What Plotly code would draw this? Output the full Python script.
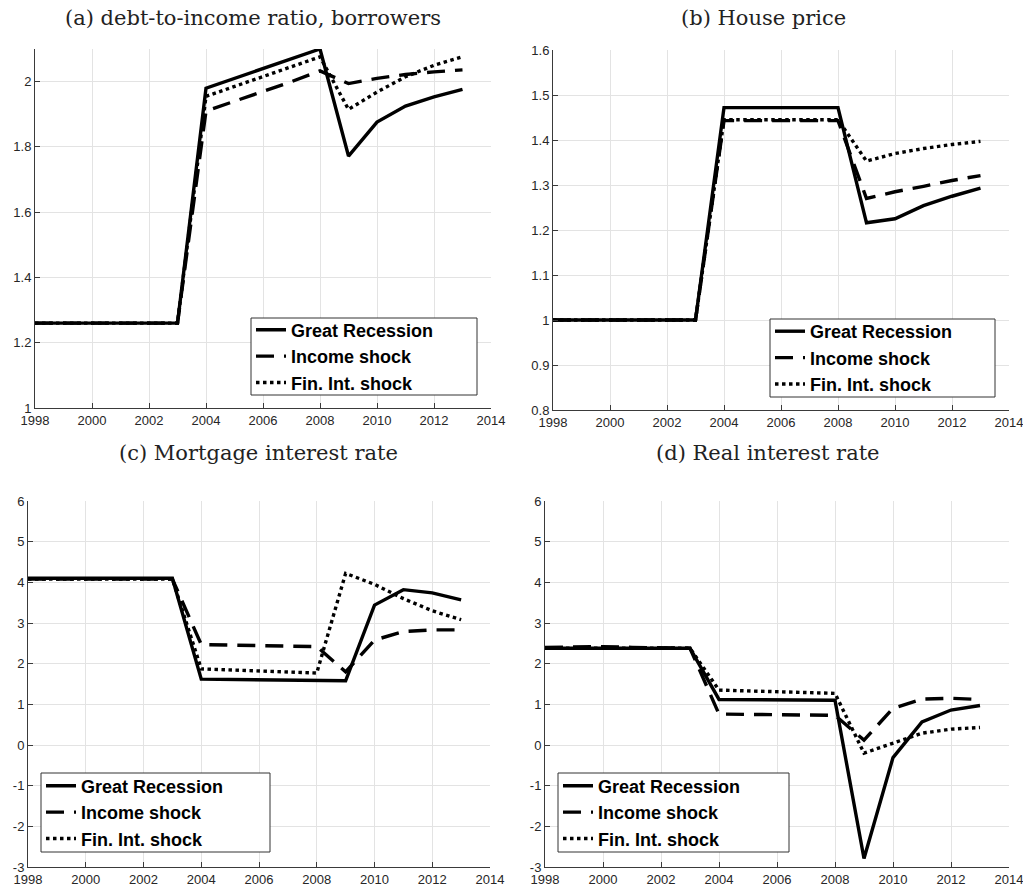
import plotly.graph_objects as go

years = [1998, 1999, 2000, 2001, 2002, 2003, 2004, 2005, 2006, 2007, 2008, 2009, 2010, 2011, 2012, 2013]
x_ticks = [1998, 2000, 2002, 2004, 2006, 2008, 2010, 2012, 2014]
series_names = ["Great Recession", "Income shock", "Fin. Int. shock"]

# (a) debt-to-income ratio, borrowers
dti_great = [1.26, 1.26, 1.26, 1.26, 1.26, 1.26, 1.98, 2.01, 2.04, 2.07, 2.10, 1.772, 1.876, 1.925, 1.953, 1.976]
dti_income = [1.26, 1.26, 1.26, 1.26, 1.26, 1.26, 1.91, 1.94, 1.97, 2.00, 2.033, 1.994, 2.01, 2.022, 2.03, 2.036]
dti_fin = [1.26, 1.26, 1.26, 1.26, 1.26, 1.26, 1.955, 1.985, 2.015, 2.045, 2.076, 1.915, 1.968, 2.015, 2.05, 2.076]

# (b) House price
hp_great = [1.0, 1.0, 1.0, 1.0, 1.0, 1.0, 1.472, 1.472, 1.472, 1.472, 1.472, 1.216, 1.225, 1.254, 1.275, 1.293]
hp_income = [1.0, 1.0, 1.0, 1.0, 1.0, 1.0, 1.443, 1.443, 1.443, 1.443, 1.443, 1.27, 1.285, 1.297, 1.31, 1.321]
hp_fin = [1.0, 1.0, 1.0, 1.0, 1.0, 1.0, 1.445, 1.445, 1.445, 1.445, 1.445, 1.353, 1.37, 1.381, 1.39, 1.397]

# (c) Mortgage interest rate
mr_great = [4.1, 4.1, 4.1, 4.1, 4.1, 4.1, 1.62, 1.61, 1.60, 1.59, 1.59, 1.58, 3.44, 3.82, 3.74, 3.57]
mr_income = [4.08, 4.08, 4.08, 4.08, 4.08, 4.08, 2.47, 2.46, 2.45, 2.44, 2.42, 1.8, 2.58, 2.79, 2.83, 2.83]
mr_fin = [4.08, 4.08, 4.08, 4.08, 4.08, 4.08, 1.87, 1.84, 1.81, 1.79, 1.77, 4.22, 3.95, 3.6, 3.3, 3.08]

# (d) Real interest rate
rr_great = [2.38, 2.38, 2.38, 2.38, 2.38, 2.38, 1.12, 1.11, 1.11, 1.10, 1.10, -2.79, -0.31, 0.57, 0.86, 0.97]
rr_income = [2.40, 2.41, 2.42, 2.40, 2.39, 2.38, 0.76, 0.75, 0.74, 0.73, 0.73, 0.12, 0.9, 1.13, 1.15, 1.12]
rr_fin = [2.38, 2.38, 2.38, 2.38, 2.38, 2.38, 1.35, 1.33, 1.31, 1.29, 1.27, -0.2, 0.04, 0.29, 0.39, 0.43]

panel_titles = ["(a) debt-to-income ratio, borrowers", "(b) House price",
                "(c) Mortgage interest rate", "(d) Real interest rate"]
ticks_a = [1, 1.2, 1.4, 1.6, 1.8, 2]
ticks_b = [0.8, 0.9, 1, 1.1, 1.2, 1.3, 1.4, 1.5, 1.6]
ticks_cd = [-3, -2, -1, 0, 1, 2, 3, 4, 5, 6]
ticktext_cd = ["-3", "-2", "-1", "0", "1", "2", "3", "4", "5", "6"]

W, H = 1023, 888
# pixel boxes [x0, x1, ytop, ybottom]
boxes = [(35, 491, 49, 408), (553, 1009, 50, 410), (28, 490, 501, 867), (545, 1009, 501, 867)]
# legend frame boxes [x0, x1, ytop, ybottom]
legend_boxes = [(251, 477, 318, 395), (770, 995, 319, 397), (41, 270, 773, 852), (558, 789, 773, 852)]
title_pos = [(253, 18), (763, 18), (258, 453), (768, 453)]

panels = [
    (dti_great, dti_income, dti_fin),
    (hp_great, hp_income, hp_fin),
    (mr_great, mr_income, mr_fin),
    (rr_great, rr_income, rr_fin),
]
yranges = [[1, 2.1], [0.8, 1.6], [-3, 6], [-3, 6]]
ytickvals = [ticks_a, ticks_b, ticks_cd, ticks_cd]
yticktexts = [None, None, ticktext_cd, ticktext_cd]

dashes = ["solid", "18px,10px", "3.5px,3.5px"]

fig = go.Figure()
axis_color = "#3a3a3a"
grid_color = "#e3e3e3"
tick_font = dict(family="Liberation Sans, Arial, sans-serif", size=13, color="#262626")

layout = {}
shapes = []
for i, (vals, box) in enumerate(zip(panels, boxes)):
    n = "" if i == 0 else str(i + 1)
    for j, v in enumerate(vals):
        fig.add_trace(go.Scatter(
            x=years, y=v, mode="lines", name=series_names[j],
            line=dict(color="black", width=3.4, dash=dashes[j]),
            xaxis="x" + n, yaxis="y" + n,
            legend="legend" + n, hoverinfo="skip",
        ))
    x0, x1, yt, yb = box
    layout["xaxis" + n] = dict(
        domain=[x0 / W, x1 / W], anchor="y" + n, range=[1998, 2014],
        tickvals=x_ticks, showgrid=True, gridcolor=grid_color, gridwidth=1,
        showline=True, linecolor=axis_color, linewidth=1, mirror=False,
        ticks="inside", ticklen=5, tickcolor=axis_color, tickfont=tick_font,
        zeroline=False, automargin=False, ticklabeloverflow="allow",
    )
    yax = dict(
        domain=[(H - yb) / H, (H - yt) / H], anchor="x" + n, range=yranges[i],
        tickvals=ytickvals[i], showgrid=True, gridcolor=grid_color, gridwidth=1,
        showline=True, linecolor=axis_color, linewidth=1, mirror=False,
        ticks="inside", ticklen=5, tickcolor=axis_color, tickfont=tick_font,
        zeroline=False, automargin=False, ticklabeloverflow="allow",
    )
    if yticktexts[i] is not None:
        yax["ticktext"] = yticktexts[i]
    layout["yaxis" + n] = yax

    lx0, lx1, lyt, lyb = legend_boxes[i]
    shapes.append(dict(
        type="rect", xref="paper", yref="paper", layer="above",
        x0=lx0 / W, x1=lx1 / W, y0=(H - lyb) / H, y1=(H - lyt) / H,
        fillcolor="white", line=dict(color="#333333", width=1),
    ))
    layout["legend" + n] = dict(
        x=lx0 / W, y=(H - (lyt + lyb) / 2) / H, xanchor="left", yanchor="middle",
        xref="paper", yref="paper",
        bgcolor="rgba(0,0,0,0)", borderwidth=0,
        font=dict(family="Liberation Sans, Arial, sans-serif", size=18, color="black", weight="bold"),
        itemwidth=30, tracegroupgap=0,
    )

annotations = []
for t, (tx, ty) in zip(panel_titles, title_pos):
    annotations.append(dict(
        text=t, x=tx / W, y=(H - ty) / H, xref="paper", yref="paper",
        xanchor="center", yanchor="middle", showarrow=False,
        font=dict(family="DejaVu Serif, serif", size=21, color="#222222"),
    ))

fig.update_layout(
    width=W, height=H, margin=dict(l=0, r=0, t=0, b=0, autoexpand=False),
    paper_bgcolor="white", plot_bgcolor="white", hovermode=False,
    annotations=annotations, shapes=shapes, **layout,
)

fig.write_html(
    "out.html",
    config={"displayModeBar": False},
    post_script="document.body.style.margin='0px';document.body.style.overflow='hidden';",
)
